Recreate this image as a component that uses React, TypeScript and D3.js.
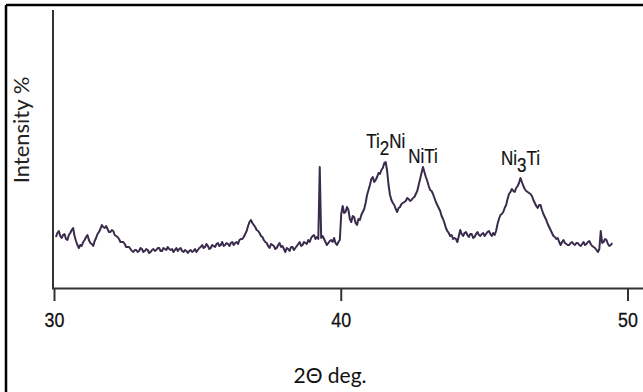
import React from "react";
import * as d3 from "d3";

// XRD pattern, 2θ sampled every 0.05° starting at 30.05°
const thetaStart = 30.05;
const thetaStep = 0.05;
const intensity: number[] = [
  52, 56, 58, 53, 51, 54, 55, 50, 49, 54, 56, 59, 61, 53, 48, 44, 41, 44, 43, 47,
  49, 52, 54, 49, 46, 45, 43, 48, 51, 55, 57, 60, 64, 62, 61, 63, 60, 57, 57, 59,
  58, 54, 53, 52, 50, 47, 47, 47, 45, 42, 42, 42, 40, 38, 37, 39, 39, 37, 38, 41,
  40, 37, 38, 40, 39, 36, 37, 39, 40, 38, 39, 41, 41, 38, 38, 41, 40, 39, 42, 40,
  39, 40, 37, 39, 41, 38, 40, 41, 38, 37, 39, 38, 36, 38, 39, 37, 38, 40, 37, 39,
  41, 42, 44, 41, 42, 45, 43, 40, 41, 44, 43, 42, 45, 46, 43, 44, 47, 43, 44, 46,
  45, 43, 46, 47, 44, 46, 47, 45, 49, 50, 50, 52, 55, 58, 63, 67, 69, 66, 64, 62,
  59, 58, 56, 53, 52, 49, 47, 46, 43, 41, 45, 44, 43, 40, 41, 44, 46, 42, 43, 40,
  37, 41, 40, 38, 42, 42, 39, 41, 43, 45, 47, 43, 44, 47, 46, 45, 49, 47, 51, 53,
  54, 50, 52, 50, 122, 51, 53, 50, 47, 44, 46, 48, 49, 47, 51, 46, 44, 47, 49, 75,
  83, 76, 77, 82, 79, 70, 67, 73, 72, 66, 64, 70, 69, 74, 77, 80, 86, 94, 99, 104,
  110, 112, 107, 109, 112, 116, 115, 119, 121, 126, 127, 118, 104, 94, 89, 86, 84, 80, 77, 81,
  82, 85, 86, 87, 88, 91, 90, 88, 89, 91, 92, 95, 98, 104, 110, 116, 122, 117, 112, 108,
  103, 99, 98, 95, 91, 87, 84, 81, 78, 73, 70, 66, 61, 58, 56, 53, 54, 50, 51, 50,
  47, 53, 59, 55, 53, 56, 57, 54, 52, 55, 55, 51, 52, 55, 57, 54, 53, 55, 56, 53,
  55, 57, 58, 55, 53, 56, 54, 58, 65, 70, 74, 75, 77, 81, 84, 90, 95, 97, 100, 98,
  97, 101, 103, 106, 111, 107, 103, 100, 98, 97, 96, 95, 93, 89, 86, 83, 81, 84, 84, 79,
  75, 72, 69, 65, 62, 59, 56, 53, 52, 50, 51, 47, 44, 47, 49, 46, 45, 44, 44, 46,
  47, 45, 44, 46, 46, 44, 43, 45, 47, 44, 45, 47, 48, 45, 43, 42, 41, 39, 37, 40,
  58, 46, 47, 50, 49, 45, 43, 44, 46,
];

const xTicks = [30, 40, 50];
const peakMain = ["Ti", "NiTi", "Ni"];
const peakSub = ["2", "", "3"];
const peakTail = ["Ni", "", "Ti"];
const peakTheta = [41.55, 42.85, 46.25];
const peakLabelY = [148, 163, 165];

const W = 643;
const H = 392;

export default function App() {
  const x = d3.scaleLinear().domain([30, 50]).range([54.5, 628]);
  const y = d3.scaleLinear().domain([0, 281]).range([289, 8]);

  const pts: [number, number][] = intensity.map((v, i) => [
    thetaStart + i * thetaStep,
    v,
  ]);
  const line = d3
    .line<[number, number]>()
    .x((d) => x(d[0]))
    .y((d) => y(d[1]));

  const narrow = "'Liberation Sans', Arial, sans-serif";
  const label = "Lato, 'Open Sans', sans-serif";

  return (
    <svg
      width={W}
      height={H}
      style={{ position: "absolute", left: 0, top: 0, background: "#fff" }}
    >
      <rect x={0} y={0} width={W} height={H} fill="#fff" />
      {/* frame (top & left) */}
      <line x1={6} y1={5} x2={W} y2={5} stroke="#000" strokeWidth={2.5} />
      <line x1={6} y1={5} x2={6} y2={H} stroke="#000" strokeWidth={2.5} />

      {/* axes */}
      <line x1={53} y1={10} x2={53} y2={289} stroke="#333" strokeWidth={2} />
      <line x1={52} y1={288.5} x2={W} y2={288.5} stroke="#333" strokeWidth={2} />
      {xTicks.map((t) => (
        <g key={t}>
          <line
            x1={x(t)}
            x2={x(t)}
            y1={288.5}
            y2={301}
            stroke="#333"
            strokeWidth={2}
          />
          <text
            transform={`translate(${x(t)},327) scale(0.85,1)`}
            textAnchor="middle"
            fontFamily={narrow}
            fontSize={21}
            fill="#111"
            stroke="#111"
            strokeWidth={0.3}
          >
            {t}
          </text>
        </g>
      ))}

      <path
        d={line(pts) || ""}
        fill="none"
        stroke="#3a2b4d"
        strokeWidth={2}
        strokeLinejoin="round"
      />

      {peakMain.map((m, i) => (
        <text
          key={i}
          transform={`translate(${x(peakTheta[i])},${peakLabelY[i]}) scale(0.85,1)`}
          textAnchor="middle"
          fontFamily={narrow}
          fontSize={20}
          fill="#111"
          stroke="#111"
          strokeWidth={0.2}
        >
          {m}
          {peakSub[i] ? <tspan dy={7}>{peakSub[i]}</tspan> : null}
          {peakTail[i] ? <tspan dy={-7}>{peakTail[i]}</tspan> : null}
        </text>
      ))}

      <text
        x={330}
        y={383}
        textAnchor="middle"
        fontFamily={label}
        fontSize={21}
        fill="#111"
      >
        2Θ deg.
      </text>
      <text
        transform="translate(29,130) rotate(-90)"
        textAnchor="middle"
        fontFamily={label}
        fontSize={22}
        fill="#222"
      >
        Intensity %
      </text>
    </svg>
  );
}
